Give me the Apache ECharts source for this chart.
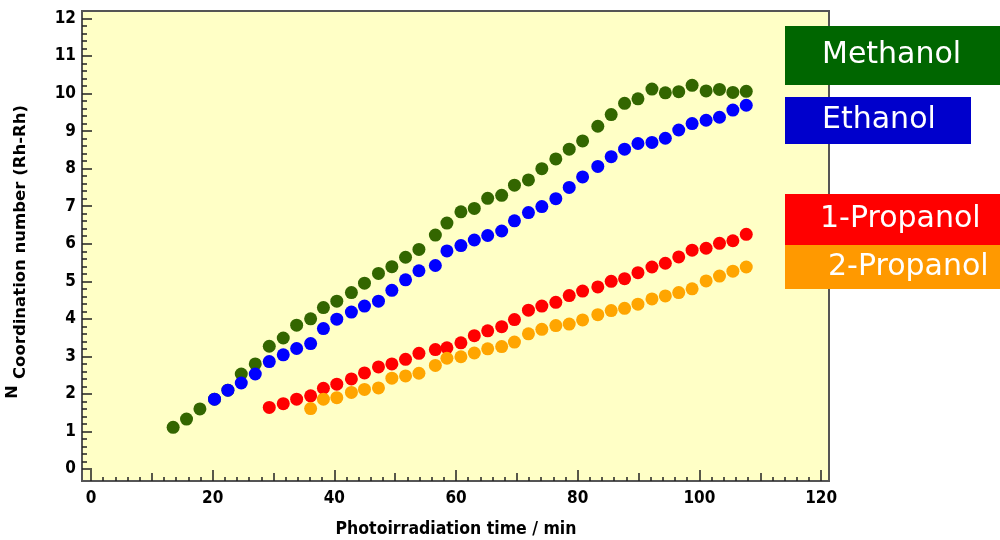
<!DOCTYPE html>
<html>
<head>
<meta charset="utf-8">
<script src="https://cdn.jsdelivr.net/npm/echarts@6/dist/echarts.min.js"></script>
<style>
  html, body { margin: 0; padding: 0; background: #ffffff; }
  #chart { width: 1000px; height: 540px; }
</style>
</head>
<body>
<div id="chart"></div>
<script>
// Photoirradiation time (min) of each measurement
const times = [13.5, 15.7, 17.9, 20.3, 22.5, 24.7, 27.0, 29.3, 31.6, 33.8, 36.1, 38.2, 40.4,
  42.8, 44.95, 47.25, 49.45, 51.7, 53.9, 56.6, 58.5, 60.8, 63.0, 65.2, 67.5, 69.6, 71.9,
  74.1, 76.4, 78.6, 80.8, 83.3, 85.5, 87.7, 89.9, 92.2, 94.4, 96.6, 98.8, 101.1, 103.3,
  105.5, 107.7];

// Rh-Rh coordination number per solvent (null = not measured at that time)
const methanol = [1.11, 1.33, 1.60, 1.86, 2.10, 2.53, 2.80, 3.27, 3.49, 3.83, 4.00, 4.30, 4.47,
  4.70, 4.95, 5.21, 5.39, 5.64, 5.85, 6.23, 6.55, 6.85, 6.94, 7.21, 7.29, 7.56, 7.70,
  8.00, 8.26, 8.52, 8.74, 9.13, 9.44, 9.74, 9.86, 10.12, 10.02, 10.05, 10.22, 10.07, 10.11,
  10.03, 10.06];
const ethanol = [null, null, null, 1.86, 2.10, 2.29, 2.53, 2.86, 3.04, 3.21, 3.34, 3.74, 3.99,
  4.18, 4.34, 4.47, 4.76, 5.04, 5.28, 5.42, 5.81, 5.95, 6.10, 6.22, 6.34, 6.61, 6.83,
  6.99, 7.20, 7.50, 7.78, 8.06, 8.32, 8.52, 8.67, 8.70, 8.81, 9.03, 9.20, 9.29, 9.37,
  9.56, 9.69];
const propanol1 = [null, null, null, null, null, null, null, 1.64, 1.74, 1.86, 1.95, 2.15, 2.26,
  2.40, 2.56, 2.72, 2.80, 2.92, 3.08, 3.18, 3.23, 3.36, 3.55, 3.68, 3.79, 3.98, 4.23,
  4.34, 4.44, 4.62, 4.74, 4.85, 5.00, 5.07, 5.23, 5.38, 5.48, 5.65, 5.83, 5.88, 6.01,
  6.08, 6.25];
const propanol2 = [null, null, null, null, null, null, null, null, null, null, 1.61, 1.86, 1.90,
  2.04, 2.12, 2.16, 2.42, 2.48, 2.55, 2.76, 2.95, 2.99, 3.09, 3.20, 3.26, 3.38, 3.60,
  3.72, 3.82, 3.86, 3.97, 4.11, 4.22, 4.28, 4.39, 4.53, 4.61, 4.70, 4.80, 5.01, 5.14,
  5.27, 5.38];

const solventNames = ['Methanol', 'Ethanol', '1-Propanol', '2-Propanol'];
const xTitle = 'Photoirradiation time / min';
const yTitle = 'Coordination number (Rh-Rh)';

// labelled tick values
const xTickLabels = [0, 20, 40, 60, 80, 100, 120];
const yTickLabels = [0, 1, 2, 3, 4, 5, 6, 7, 8, 9, 10, 11, 12];

function steps(from, to, step) {
  const out = [];
  for (let v = from; v <= to + 1e-9; v += step) out.push(Math.round(v * 1000) / 1000);
  return out;
}
const xMidTicks = steps(0, 120, 10);
const xMinorTicks = steps(0, 120, 2);
const yMinorTicks = steps(0, 12, 0.2);

function pairs(values) {
  return times.map((t, i) => [t, values[i]]).filter(p => p[1] !== null);
}

const tickFont = {
  fontFamily: '"Liberation Sans Narrow", "DejaVu Sans Condensed", sans-serif',
  fontWeight: 'bold', fontSize: 17, color: '#000'
};
const tickLine = { color: '#222', width: 1.5 };

// frame of the plotting area: x from -1.48 to 121.3, y from -0.32 to 12.2
const X_MIN = -1.48, X_MAX = 121.3, Y_MIN = -0.32, Y_MAX = 12.2;

function xAxisLayer(values, len, withLabels) {
  return {
    type: 'value', min: X_MIN, max: X_MAX, position: 'bottom', offset: 0,
    axisLine: { show: false, onZero: false },
    axisTick: { show: true, inside: true, length: len, lineStyle: tickLine, customValues: values },
    splitLine: { show: false },
    axisLabel: withLabels
      ? Object.assign({ show: true, margin: 9, customValues: values }, tickFont)
      : { show: false }
  };
}
function yAxisLayer(values, len, withLabels) {
  return {
    type: 'value', min: Y_MIN, max: Y_MAX, position: 'left', offset: 0,
    axisLine: { show: false, onZero: false },
    axisTick: { show: true, inside: true, length: len, lineStyle: tickLine, customValues: values },
    splitLine: { show: false },
    axisLabel: withLabels
      ? Object.assign({ show: true, margin: 6, customValues: values }, tickFont)
      : { show: false }
  };
}

const chart = echarts.init(document.getElementById('chart'), null, { renderer: 'canvas' });

function dotSeries(name, values, color) {
  return {
    name: name, type: 'scatter', data: pairs(values),
    xAxisIndex: 0, yAxisIndex: 0,
    symbol: 'circle', symbolSize: 13,
    itemStyle: { color: color, opacity: 1 },
    emphasis: { disabled: true }
  };
}

function legendBox(x, y, w, h, fill, label, tx) {
  return [
    { type: 'rect', z: 100, shape: { x: x, y: y, width: w, height: h }, style: { fill: fill } },
    { type: 'text', z: 101, x: tx, y: y + h / 2,
      style: { text: label, fill: '#fff', font: '30px "DejaVu Sans", sans-serif',
               textVerticalAlign: 'middle', textAlign: 'left' } }
  ];
}

chart.setOption({
  animation: false,
  backgroundColor: '#ffffff',
  grid: { left: 82, right: 171, top: 11, bottom: 59, containLabel: false,
          show: true, backgroundColor: '#ffffc6', borderColor: '#555', borderWidth: 2 },
  xAxis: [
    xAxisLayer(xTickLabels, 11, true),
    xAxisLayer(xMidTicks, 8, false),
    xAxisLayer(xMinorTicks, 4, false)
  ],
  yAxis: [
    yAxisLayer(yTickLabels, 10, true),
    yAxisLayer(yMinorTicks, 5, false)
  ],
  series: [
    dotSeries(solventNames[0], methanol, '#336600'),
    dotSeries(solventNames[1], ethanol, '#0000ff'),
    dotSeries(solventNames[2], propanol1, '#ff0000'),
    dotSeries(solventNames[3], propanol2, '#ffa500')
  ],
  graphic: [
    { type: 'text', x: 456, y: 529,
      style: { text: xTitle, fill: '#000', textAlign: 'center', textVerticalAlign: 'middle',
               font: 'bold 17.5px "Liberation Sans Narrow", "DejaVu Sans Condensed", sans-serif' } },
    { type: 'text', x: 21, y: 242, rotation: Math.PI / 2,
      style: { text: yTitle, fill: '#000', textAlign: 'center', textVerticalAlign: 'middle',
               font: 'bold 16.5px "DejaVu Sans", sans-serif' } },
    { type: 'text', x: 13, y: 392, rotation: Math.PI / 2,
      style: { text: 'N', fill: '#000', textAlign: 'center', textVerticalAlign: 'middle',
               font: 'bold 16px "DejaVu Sans", sans-serif' } }
  ]
    .concat(legendBox(785, 26, 215, 59, '#006600', solventNames[0], 822))
    .concat(legendBox(785, 97, 186, 47, '#0000cc', solventNames[1], 822))
    .concat(legendBox(785, 194, 215, 51, '#ff0000', solventNames[2], 820))
    .concat(legendBox(785, 245, 215, 44, '#ff9900', solventNames[3], 828))
});
</script>
</body>
</html>
